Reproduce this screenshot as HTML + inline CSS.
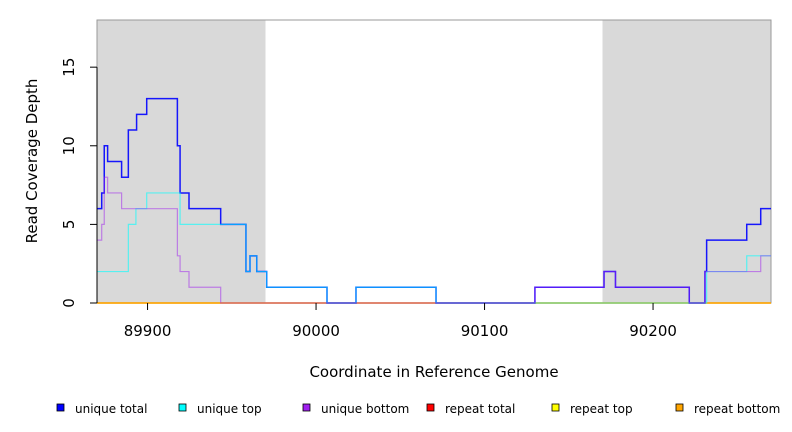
<!DOCTYPE html>
<html><head><meta charset="utf-8"><style>
body{margin:0;background:#fff;}
svg{display:block;font-family:"DejaVu Sans","Liberation Sans",sans-serif;}
</style></head><body>
<svg id="chart" width="792" height="432">
<g id="plot"></g>
</svg>
<script>
const xDomain=[89870,90270];
const yDomain=[0,18];
const shadedRegions=[[89870,89970],[90170,90270]];
const xTicks=[89900,90000,90100,90200];
const yTicks=[0,5,10,15];
// step series: breakpoints and values (value holds from breakpoint to next)
const totalX=[89870,89872.8,89874.3,89876.3,89884.6,89888.6,89893.5,89899.5,89917.7,89919.3,89924.6,89943.4,89958.4,89960.8,89964.8,89970.7,90006.5,90023.7,90071.2,90129.9,90170.9,90177.7,90221.5,90230.8,90231.8,90255.6,90263.9,90270];
const totalY=[6,7,10,9,8,11,12,13,10,7,6,5,2,3,2,1,0,1,0,1,2,1,0,2,4,5,6,6];
const topX=[89870,89888.6,89893.1,89899.5,89919.3,89958.4,89960.8,89964.8,89970.7,90006.5,90023.7,90071.2,90231.8,90255.6,90270];
const topY=[2,5,6,7,5,2,3,2,1,0,1,0,2,3,3];
const bottomX=[89870,89872.8,89874.3,89876.3,89884.6,89917.7,89919.3,89924.6,89943.4,90129.9,90170.9,90177.7,90221.5,90230.8,90263.9,90270];
const bottomY=[4,5,8,7,6,3,2,1,0,1,2,1,0,2,3,3];
const repeatX=[89870,90270];
const repeatY=[0,0];
const legendLabels=["unique total","unique top","unique bottom","repeat total","repeat top","repeat bottom"];
const legendColors=["#0000ff","#00ffff","#a020f0","#ff0000","#ffff00","#ffa500"];

const L=97,R=771,T=20,B=303;
const sx=v=>L+(v-xDomain[0])/(xDomain[1]-xDomain[0])*(R-L);
const sy=v=>B-(v-yDomain[0])/(yDomain[1]-yDomain[0])*(B-T);
const NS="http://www.w3.org/2000/svg";
const svg=document.getElementById('chart');
function mk(tag,attrs,parent){const e=document.createElementNS(NS,tag);for(const k in attrs)e.setAttribute(k,attrs[k]);(parent||svg).appendChild(e);return e;}

shadedRegions.forEach(r=>{
  const e=mk('rect',{x:sx(r[0]),y:T,width:sx(r[1])-sx(r[0]),height:B-T,fill:'#d9d9d9'});
  
  
});
const box=mk('rect',{x:L,y:T,width:R-L,height:B-T,fill:'none',stroke:'#999','stroke-width':1});



function stepPath(xs,ys){let d='M'+sx(xs[0])+','+sy(ys[0]);for(let i=1;i<xs.length;i++){d+=' H'+sx(xs[i])+' V'+sy(ys[i]);}return d;}
function series(xs,ys,color,w,op,name){
  const p=mk('path',{d:stepPath(xs,ys),fill:'none',stroke:color,'stroke-width':w,'stroke-opacity':op});
  
  
}
series(repeatX,repeatY,'#ff0000',1.5,0.6,'line-repeat-total');
series(repeatX,repeatY,'#ffff00',1.5,0.6,'line-repeat-top');
series(repeatX,repeatY,'#ffa500',1.5,0.7,'line-repeat-bottom');
series(totalX,totalY,'#0000ff',1.5,0.9,'line-unique-total');
series(topX,topY,'#00ffff',1.2,0.6,'line-unique-top');
series(bottomX,bottomY,'#a020f0',1.2,0.5,'line-unique-bottom');

const ax=mk('line',{x1:L,y1:B,x2:L,y2:sy(15),stroke:'#000'});


yTicks.forEach(t=>{
  const y=sy(t);
  const tk=mk('line',{x1:L-7,y1:y,x2:L,y2:y,stroke:'#000'});
  
  
  const tx=mk('text',{x:0,y:0,transform:`translate(74,${y}) rotate(-90)`,'text-anchor':'middle','font-size':15,fill:'#000'});
  tx.textContent=t;
  
  
});
xTicks.forEach(t=>{
  const x=sx(t);
  const tk=mk('line',{x1:x,y1:B,x2:x,y2:B+7,stroke:'#000'});
  
  
  const tx=mk('text',{x:x,y:336,'text-anchor':'middle','font-size':15,fill:'#000'});
  tx.textContent=t;
  
  
});
const xt=mk('text',{x:434,y:377,'text-anchor':'middle','font-size':15,fill:'#000'});
xt.textContent='Coordinate in Reference Genome';


const yt=mk('text',{x:0,y:0,transform:'translate(37,161) rotate(-90)','text-anchor':'middle','font-size':15,fill:'#000'});
yt.textContent='Read Coverage Depth';



const legX=[57,179,303,427,552,676];
legendLabels.forEach((lab,i)=>{
  const g=mk('g',{});
  
  
  mk('rect',{x:legX[i],y:404,width:7,height:7,fill:legendColors[i],stroke:'#000','stroke-width':0.8},g);
  const t=mk('text',{x:legX[i]+18,y:413,'font-size':12,fill:'#000'},g);
  t.textContent=lab;
});
</script>
</body></html>
